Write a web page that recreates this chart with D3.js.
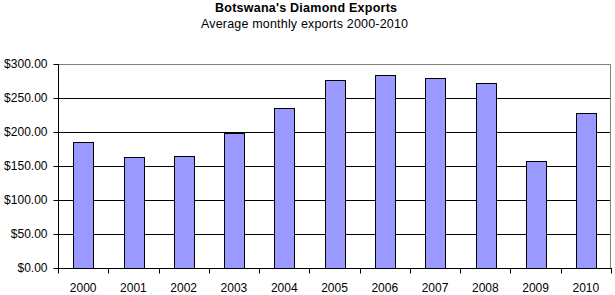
<!DOCTYPE html>
<html><head><meta charset="utf-8">
<script src="https://cdn.jsdelivr.net/npm/d3@7"></script>
<style>body{margin:0;background:#fff}svg{display:block}text{font-family:"Liberation Sans",Arial,sans-serif}</style>
</head><body><svg id="c" width="615" height="295"></svg>
<script>
const years = ["2000","2001","2002","2003","2004","2005","2006","2007","2008","2009","2010"];
const exportsAvg = [185.3,163.2,164.7,199,235.3,277,283.8,279.4,272,157.4,228];
const yTicks = [0,50,100,150,200,250,300];
const title = "Botswana's Diamond Exports";
const subtitle = "Average monthly exports 2000-2010";

const svg = d3.select("#c");
const L=58, R=611, T=64, B=268;
const x = d3.scaleBand().domain(years).range([L,R]).paddingInner(0.61).paddingOuter(0.305);
const xb = d3.scaleBand().domain(years).range([L,R]);
const y = d3.scaleLinear().domain([0,300]).range([B,T]);

svg.append("text").attr("x",215).attr("y",11.5)
  .attr("font-size",12.5).attr("font-weight","bold")
  .attr("textLength",182).attr("lengthAdjust","spacing").text(title);
svg.append("text").attr("x",201).attr("y",27.5)
  .attr("font-size",12.5)
  .attr("textLength",207).attr("lengthAdjust","spacing").text(subtitle);

// gridlines
svg.append("g").selectAll("line").data(yTicks.filter(d=>d>0&&d<300)).join("line")
  .attr("x1",L).attr("x2",R).attr("y1",d=>Math.round(y(d))+0.5).attr("y2",d=>Math.round(y(d))+0.5)
  .attr("stroke","#000");
// plot border top/right
svg.append("path").attr("d",`M${L},${T+0.5}H${R-0.5}V${B}`).attr("fill","none").attr("stroke","#808080");

svg.append("g").selectAll("rect").data(years).join("rect")
  .attr("x",d=>Math.round(x(d))+0.5).attr("width",Math.round(x.bandwidth()))
  .attr("y",(d,i)=>Math.round(y(exportsAvg[i]))+0.5)
  .attr("height",(d,i)=>B-Math.round(y(exportsAvg[i])))
  .attr("fill","#9999ff").attr("stroke","#000");

// y axis
const ya = svg.append("g").attr("transform",`translate(${L+0.5},0.5)`)
  .call(d3.axisLeft(y).tickValues(yTicks).tickSize(5).tickPadding(6).tickFormat(d=>"$"+d3.format(".2f")(d)));
ya.select(".domain").attr("d",`M0,${T}V${B}`);
ya.selectAll("text").attr("font-size",12).attr("font-family","Liberation Sans,Arial,sans-serif").attr("fill","#000");
ya.selectAll(".tick").attr("transform",d=>`translate(0,${Math.round(y(d))})`);

// x axis
const xa = svg.append("g").attr("transform",`translate(0,${B+0.5})`);
xa.append("line").attr("x1",L).attr("x2",R+1).attr("stroke","#000");
const bounds = years.map(d=>xb(d)).concat([R]);
xa.selectAll("line.t").data(bounds).join("line").attr("class","t")
  .attr("x1",d=>Math.round(d)+0.5).attr("x2",d=>Math.round(d)+0.5).attr("y1",0).attr("y2",5).attr("stroke","#000");
xa.selectAll("text").data(years).join("text")
  .attr("x",d=>xb(d)+xb.bandwidth()/2).attr("y",23.5).attr("text-anchor","middle")
  .attr("font-size",12).text(d=>d);
</script></body></html>
